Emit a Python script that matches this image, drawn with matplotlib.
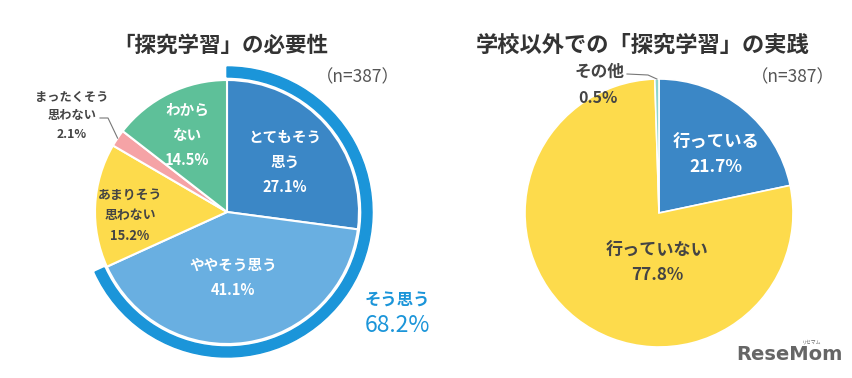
import numpy as np
import matplotlib.pyplot as plt
from matplotlib.patches import Wedge

plt.rcParams['font.family'] = ['Noto Sans CJK JP', 'DejaVu Sans']

# left chart: 「探究学習」の必要性
need_labels = ['とてもそう\n思う', 'ややそう思う', 'あまりそう\n思わない', 'まったくそう\n思わない', 'わから\nない']
need_values = [27.1, 41.1, 15.2, 2.1, 14.5]
need_colors = ['#3B87C6', '#69AFE1', '#FDDB4C', '#F5A3A6', '#5EC099']
agree_total = 68.2

# right chart: 学校以外での「探究学習」の実践
prac_labels = ['行っている', '行っていない', 'その他']
prac_values = [21.7, 77.8, 0.5]
prac_colors = ['#3B87C6', '#FDDB4C', '#8ED6CC']

H = 378
def Y(p):
    return H - p

fig = plt.figure(figsize=(8.52, 3.78), dpi=100)
ax = fig.add_axes([0, 0, 1, 1])
ax.axis('off')

# ---- left pie
lc = (227, Y(212))
lr = 132
ax.pie(need_values, colors=need_colors, startangle=90, counterclock=False,
       center=lc, radius=lr, wedgeprops=dict(edgecolor='white', linewidth=1.5))

# ring for "そう思う" total
ring_deg = (need_values[0] + need_values[1]) * 3.6
ax.add_patch(Wedge(lc, 145, 90 - ring_deg, 90, width=10, color='#1B95D9'))

dark = '#444444'
ax.text(285, Y(162), need_labels[0] + '\n%.1f%%' % need_values[0], color='white',
        fontsize=10.5, fontweight='bold', ha='center', va='center', linespacing=1.7)
ax.text(233, Y(277), need_labels[1] + '\n%.1f%%' % need_values[1], color='white',
        fontsize=10.5, fontweight='bold', ha='center', va='center', linespacing=1.7)
ax.text(130, Y(215), need_labels[2] + '\n%.1f%%' % need_values[2], color=dark,
        fontsize=9.3, fontweight='bold', ha='center', va='center', linespacing=1.6)
ax.text(72, Y(116), need_labels[3] + '\n%.1f%%' % need_values[3], color=dark,
        fontsize=8.8, fontweight='bold', ha='center', va='center', linespacing=1.55)
ax.text(187, Y(135), need_labels[4] + '\n%.1f%%' % need_values[4], color='white',
        fontsize=10.5, fontweight='bold', ha='center', va='center', linespacing=1.7)

# leader for the small pink slice
mid = 90 - (sum(need_values[:3]) + need_values[3] / 2) * 3.6
px = lc[0] + lr * np.cos(np.radians(mid))
py = lc[1] + lr * np.sin(np.radians(mid))
ax.plot([100, 108, px], [Y(118), Y(118), py], color='#777777', lw=0.8)

ax.text(397, Y(301), 'そう思う', color='#1B95D9', fontsize=11.8, fontweight='bold',
        ha='center', va='center')
ax.text(397, Y(325), '%.1f%%' % agree_total, color='#1B95D9', fontsize=16.5,
        ha='center', va='center')

ax.text(221, Y(45), '「探究学習」の必要性', fontsize=15.5, fontweight='bold',
        color='#333333', ha='center', va='center')
ax.text(358, Y(77), '（n=387）', fontsize=12.5, color='#555555', ha='center', va='center')

# ---- right pie
rc = (659, Y(213))
rr = 134
ax.pie(prac_values, colors=prac_colors, startangle=90, counterclock=False,
       center=rc, radius=rr, wedgeprops=dict(edgecolor='white', linewidth=1.2))

ax.text(716, Y(155), prac_labels[0] + '\n%.1f%%' % prac_values[0], color='white',
        fontsize=12.5, fontweight='bold', ha='center', va='center', linespacing=1.45)
ax.text(657, Y(263), prac_labels[1] + '\n%.1f%%' % prac_values[1], color=dark,
        fontsize=12.3, fontweight='bold', ha='center', va='center', linespacing=1.5)
ax.text(599, Y(72), prac_labels[2], color=dark, fontsize=12, fontweight='bold',
        ha='center', va='center')
ax.text(598, Y(98), '%.1f%%' % prac_values[2], color=dark, fontsize=11.5,
        fontweight='bold', ha='center', va='center')

mid = 90 - (sum(prac_values[:2]) + prac_values[2] / 2) * 3.6
px = rc[0] + rr * np.cos(np.radians(mid))
py = rc[1] + rr * np.sin(np.radians(mid))
ax.plot([627, 648, px], [Y(74), Y(75), py], color='#777777', lw=0.8)

ax.text(643, Y(45), '学校以外での「探究学習」の実践', fontsize=16, fontweight='bold',
        color='#333333', ha='center', va='center')
ax.text(793, Y(77), '（n=387）', fontsize=12.5, color='#555555', ha='center', va='center')

# logo
ax.text(789, Y(354), 'ReseMom', fontsize=14, fontweight='bold', color='#666666',
        family='DejaVu Sans', ha='center', va='center')
ax.text(812, Y(342), 'リセマム', fontsize=3.5, color='#666666', ha='center', va='center')

ax.set_xlim(0, 852)
ax.set_ylim(0, H)
ax.set_aspect('equal')

fig.savefig('out.png', dpi=100)
